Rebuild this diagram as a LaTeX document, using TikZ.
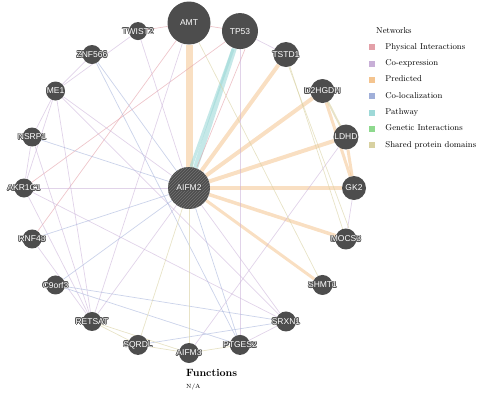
\documentclass[tikz,border=0pt]{standalone}
\usepackage{fontspec}
\newfontfamily\genefont{Liberation Sans}
\usetikzlibrary{positioning,patterns}

\pgfdeclarelayer{edges}
\pgfsetlayers{edges,main}

\definecolor{gdark}{RGB}{77,77,77}
\definecolor{cphys}{RGB}{227,160,168}
\definecolor{ccoex}{RGB}{200,175,215}
\definecolor{cpred}{RGB}{244,196,143}
\definecolor{ccoloc}{RGB}{160,175,217}
\definecolor{cpath}{RGB}{158,217,216}
\definecolor{cgen}{RGB}{142,217,142}
\definecolor{cdom}{RGB}{216,209,161}

% gene node: dark disc, white name with a dark rim
\newcommand{\gene}[4][]{%
  \node[gene, minimum size=#4pt, #1] (#2) at (#3) {};
  \foreach \o in {0,45,...,315}
    \node[genelabel, text=gdark] at ([shift={(\o:0.8pt)}]#2) {#2};
  \node[genelabel, text=white] at (#2) {#2};
}

\begin{document}
\begin{tikzpicture}[x=1pt, y=1pt,
    gene/.style={circle, fill=gdark, inner sep=0pt},
    genelabel/.style={font=\genefont\fontsize{8.5}{9}\selectfont, inner sep=0pt},
    physline/.style={draw=cphys, line width=0.7pt, opacity=0.6},
    coexline/.style={draw=ccoex, line width=0.7pt, opacity=0.55},
    predline/.style={draw=cpred, line width=0.7pt, opacity=0.55},
    colocline/.style={draw=ccoloc, line width=0.7pt, opacity=0.55},
    pathline/.style={draw=cpath, line width=0.7pt, opacity=0.6},
    domline/.style={draw=cdom, line width=0.7pt, opacity=0.6},
    legbox/.style={minimum size=6pt, inner sep=0pt},
    legtext/.style={font=\fontsize{8.5}{10}\selectfont, inner sep=0pt, text height=6pt, text depth=2pt}]

    \useasboundingbox (-189,-209) rectangle (298,188);

    % genes round the circle
    \foreach \g/\a/\d in {AMT/90/43, TP53/72/36, TSTD1/54/25, D2HGDH/36/24,
        LDHD/18/25, GK2/0/24, MOCS3/-18/21, SHMT1/-36/20, SRXN1/-54/20,
        PTGES2/-72/20, AIFM3/-90/20, SQRDL/-108/20, RETSAT/-126/19,
        C9orf3/-144/19, RNF43/-162/19, AKR1C1/180/19, NSRP1/162/19,
        ME1/144/19, ZNF566/126/19, TWIST2/108/18}
        \gene{\g}{\a:165}{\d};

    % query gene
    \gene[postaction={pattern=north east lines, pattern color=gray!75!gdark}]{AIFM2}{0,0}{42};

    \begin{pgfonlayer}{edges}
        % predicted
        \draw[predline, line width=7pt] (AIFM2) -- (AMT);
        \foreach \g in {TSTD1, D2HGDH, LDHD, GK2}
            \draw[predline, line width=4pt] (AIFM2) -- (\g);
        \draw[predline, line width=3.5pt] (AIFM2) -- (MOCS3);
        \draw[predline, line width=3pt] (AIFM2) -- (SHMT1);
        \draw[predline, line width=3pt] (D2HGDH) -- (GK2);
        \draw[predline, line width=3pt] (LDHD) -- (GK2);

        % pathway
        \draw[pathline, line width=5pt] (TP53) -- (AIFM2);
        \draw[pathline, line width=3pt] ([xshift=-7pt]TP53.south) -- ([xshift=2pt]AIFM2.north);

        % physical interactions
        \foreach \p/\q in {AMT/TWIST2, AMT/TP53, AMT/RNF43, TP53/AKR1C1}
            \draw[physline] (\p) -- (\q);
        \draw[physline] ([xshift=5pt]TP53.south) -- ([xshift=8pt]AIFM2.north);

        % co-expression
        \foreach \p/\q in {ME1/NSRP1, ME1/AKR1C1, ME1/RETSAT, NSRP1/RETSAT,
            AKR1C1/RETSAT, ME1/ZNF566, ME1/TWIST2, TWIST2/AIFM2, ME1/AIFM2,
            AKR1C1/AIFM2, AKR1C1/SRXN1, ME1/SRXN1, RETSAT/AMT, RETSAT/AIFM2,
            AIFM2/SRXN1, GK2/MOCS3, LDHD/AIFM3, TP53/PTGES2, TP53/TSTD1,
            SRXN1/PTGES2, NSRP1/AKR1C1, RNF43/RETSAT}
            \draw[coexline] (\p) -- (\q);

        % co-localization
        \foreach \p/\q in {ZNF566/AIFM2, ZNF566/PTGES2, NSRP1/AIFM2,
            RNF43/AIFM2, C9orf3/AIFM2, C9orf3/PTGES2, AIFM2/PTGES2,
            SQRDL/SRXN1, C9orf3/SRXN1}
            \draw[colocline] (\p) -- (\q);

        % shared protein domains
        \foreach \p/\q in {RETSAT/SQRDL, SQRDL/AIFM3, RETSAT/AIFM3,
            AIFM2/AIFM3, AIFM2/SQRDL, TSTD1/MOCS3, AMT/SHMT1, AIFM3/PTGES2}
            \draw[domline] (\p) -- (\q);
        \draw[domline, line width=2pt] (D2HGDH) -- (LDHD);
        \draw[domline] ([xshift=3pt]TSTD1.south) -- ([xshift=3pt]MOCS3.north);
    \end{pgfonlayer}

    % legend
    \node[legtext, anchor=west] (nethead) at (187,157) {Networks};
    \foreach \c/\t [count=\i] in {cphys/Physical Interactions, ccoex/Co-expression,
        cpred/Predicted, ccoloc/Co-localization, cpath/Pathway,
        cgen/Genetic Interactions, cdom/Shared protein domains} {
        \node[legbox, fill=\c] (box\i) at (183,157-16.3*\i) {};
        \node[legtext, right=10pt of box\i] (leg\i) {\t};
    }

    \node[anchor=west, inner sep=0pt, font=\bfseries\fontsize{10.5}{12}\selectfont] (functitle) at (-3,-185) {Functions};
    \node[anchor=west, inner sep=0pt, font=\fontsize{6}{7}\selectfont] (funcna) at (-3,-199) {N/A};
\end{tikzpicture}
\end{document}
